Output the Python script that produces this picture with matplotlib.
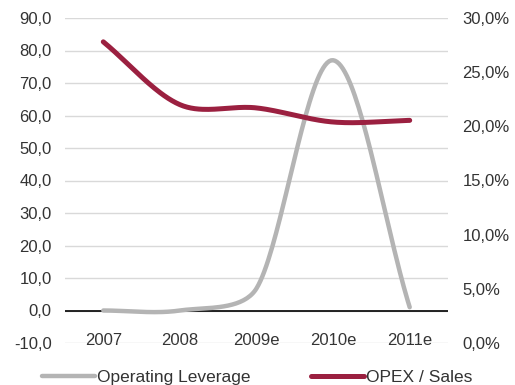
import numpy as np
import matplotlib
matplotlib.use("Agg")
import matplotlib.pyplot as plt
from matplotlib.ticker import FuncFormatter, MultipleLocator

# data
years = ["2007", "2008", "2009e", "2010e", "2011e"]
op_leverage = [0.0, 0.0, 6.8, 77.0, 1.0]        # left axis
opex_sales = [27.8, 22.0, 21.7, 20.4, 20.55]    # right axis, %

gray = "#b4b4b4"
red = "#9b2040"
txt = "#333333"

# plot box in pixels (lines are smoothed in screen space, like Excel does)
PX_W, PX_H = 383, 325


def smooth(y, ymin, ymax, n=40):
    # catmull-rom style bezier, arms capped at a third of the segment
    y = np.asarray(y, float)
    x = np.arange(len(y), dtype=float)
    sx = PX_W / len(y)
    sy = PX_H / (ymax - ymin)
    P = np.column_stack([x * sx, y * sy])
    m = len(P)
    v = np.diff(P, axis=0)
    d = np.linalg.norm(v, axis=1)

    def arm(i, seg):
        a = (P[i + 1] - P[i - 1]) / 6
        la = np.linalg.norm(a)
        cap = d[seg] / 3
        return a * (cap / la) if la > cap else a

    xs, ys = [], []
    t = np.linspace(0, 1, n)[:, None]
    for i in range(m - 1):
        p0, p3 = P[i], P[i + 1]
        c1 = p0 + (arm(i, i) if i > 0 else v[i] / 3)
        c2 = p3 - (arm(i + 1, i) if i + 2 < m else v[i] / 3)
        B = ((1 - t) ** 3) * p0 + 3 * ((1 - t) ** 2) * t * c1 \
            + 3 * (1 - t) * t ** 2 * c2 + t ** 3 * p3
        xs.append(B[:, 0] / sx)
        ys.append(B[:, 1] / sy)
    return np.concatenate(xs), np.concatenate(ys)


plt.rcParams['font.family'] = ['Liberation Sans', 'DejaVu Sans']

fig = plt.figure(figsize=(5.15, 3.85), dpi=100)
ax = fig.add_axes([65 / 515, 1 - 343 / 385, PX_W / 515, PX_H / 385])
ax2 = ax.twinx()

comma = lambda fmt: FuncFormatter(lambda v, p: fmt.format(v).replace(".", ","))

ax.set_xlim(-0.5, len(years) - 0.5)
ax.set_ylim(-10, 90)
ax.yaxis.set_major_locator(MultipleLocator(10))
ax.yaxis.set_major_formatter(comma("{:.1f}"))
ax.grid(axis="y", color="#d9d9d9", linewidth=1)
ax.set_axisbelow(True)
ax.axhline(0, color="black", linewidth=1.2, zorder=1)

ax2.set_ylim(0, 30)
ax2.yaxis.set_major_locator(MultipleLocator(5))
ax2.yaxis.set_major_formatter(comma("{:.1f}%"))

for a in (ax, ax2):
    for s in a.spines.values():
        s.set_visible(False)
    a.tick_params(length=0, labelsize=12, labelcolor=txt)
ax.tick_params(axis="y", pad=9.5)
ax2.tick_params(axis="y", pad=10.5)

ax.set_xticks(range(len(years)))
ax.set_xticklabels(years)
ax.spines["bottom"].set_position(("data", 0))
ax.tick_params(axis="x", pad=16)

gx, gy = smooth(op_leverage, -10, 90)
l1, = ax.plot(gx, gy, color=gray, linewidth=3.2, solid_capstyle="round",
              label="Operating Leverage", zorder=3)
rx, ry = smooth(opex_sales, 0, 30)
l2, = ax2.plot(rx, ry, color=red, linewidth=3.6, solid_capstyle="round",
               label="OPEX / Sales", zorder=3)

fig.legend(handles=[l1, l2], loc="lower center", bbox_to_anchor=(0.5, -0.04),
           ncol=2, frameon=False, fontsize=12.5, handlelength=3.0,
           handletextpad=0.15, columnspacing=3.5, labelcolor=txt)

fig.savefig("out.png", dpi=100)
